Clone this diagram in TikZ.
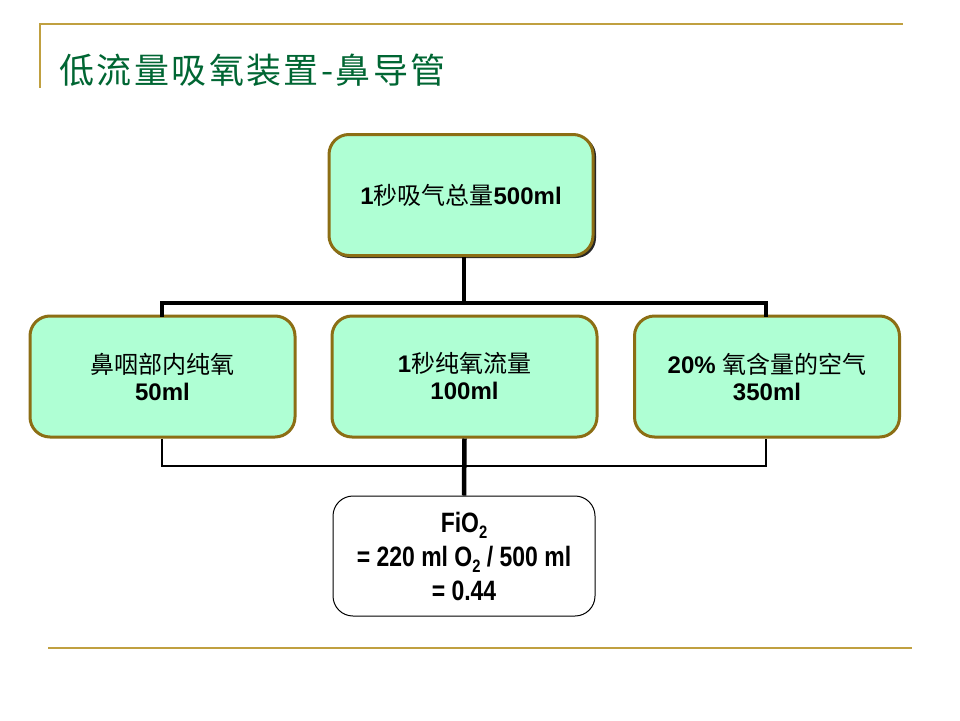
\documentclass[tikz,border=0pt]{standalone}
\usepackage{fontspec}
\setmainfont{Liberation Sans}
\newfontfamily\cjk{Noto Sans CJK SC}
\newfontfamily\titlefont[LetterSpace=7]{Noto Sans CJK SC}
\newfontfamily\narrowfont[FakeStretch=0.82]{Liberation Sans}
\definecolor{gold}{RGB}{192,160,64}
\definecolor{titlegreen}{RGB}{0,102,51}
\definecolor{boxfill}{RGB}{175,255,212}
\definecolor{boxborder}{RGB}{140,110,20}
\tikzset{
  px/.style={x=1pt,y=-1pt},
  greenbox/.style={draw=boxborder, fill=boxfill, line width=3pt, rounded corners=20pt,
    minimum width=265pt, minimum height=121pt, align=center,
    font=\fontsize{24}{27}\selectfont\bfseries, inner sep=0pt},
  whitebox/.style={draw=black, fill=white, line width=1pt, rounded corners=20pt,
    minimum width=262pt, minimum height=120pt, align=center,
    font=\fontsize{28}{34}\selectfont\narrowfont\bfseries, inner sep=0pt},
  thickline/.style={line width=4.5pt, black},
  thinline/.style={line width=2pt, black},
  goldline/.style={line width=2pt, gold},
}
\newcommand{\sbs}[1]{{\fontsize{18}{18}\selectfont\raisebox{-6pt}{#1}}}
\begin{document}
\begin{tikzpicture}[px]
\useasboundingbox (0,0) rectangle (960,720);
\fill[white] (0,0) rectangle (960,720);
% decorative lines
\draw[goldline] (40,24) -- (903,24);
\draw[goldline] (40,23) -- (40,88);
\draw[goldline] (48,648) -- (912,648);
% title
\node[anchor=west, text=titlegreen, font=\fontsize{35}{40}\selectfont\titlefont, inner sep=0pt] (title) at (59,70) {低流量吸氧装置-鼻导管};
% connector coordinates
\coordinate (hL) at (162,303);
\coordinate (hR) at (766,303);
\coordinate (bL) at (162,466);
\coordinate (bR) at (766,466);
\coordinate (hM) at (464,303);
% top box shadow
\fill[black!85, rounded corners=20pt] (330,136) rectangle (596,258);
\node[greenbox, minimum width=264pt] (top) at (461,195) {1{\cjk\mdseries 秒吸气总量}500ml};
% middle boxes
\node[greenbox] (left) at (162.5,376.5) {{\cjk\mdseries 鼻咽部内纯氧}\\50ml};
\node[greenbox] (mid) at (464.5,376.5) {1{\cjk\mdseries 秒纯氧流量}\\100ml};
\node[greenbox] (right) at (767,376.5) {20\% {\cjk\mdseries 氧含量的空气}\\350ml};
% result box
\node[whitebox] (res) at (464,556) {FiO\sbs{2}\\= 220 ml O\sbs{2} / 500 ml\\= 0.44};
% connectors
\draw[thickline] (top.south -| hM) -- (hM);
\draw[thickline, line cap=rect] (hL |- left.north) -- (hL) -- (hR) -- (hR |- right.north);
\draw[thinline] (bL |- left.south) -- (bL) -- (bR) -- (bR |- right.south);
\draw[thickline] (mid.south) -- (res.north);
\end{tikzpicture}
\end{document}
